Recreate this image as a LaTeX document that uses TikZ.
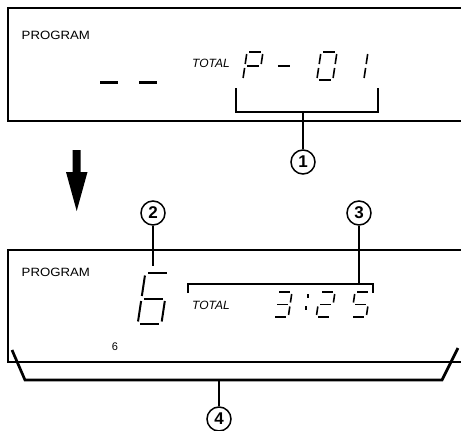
\documentclass[tikz,border=0pt]{standalone}
\usepackage{fontspec}
\setmainfont{Liberation Sans}
\newfontfamily\lblfont[FakeStretch=1.1]{Liberation Sans}
\newfontfamily\totfont{Liberation Sans}
\tikzset{
  box/.style={line width=1.6pt},
  brk/.style={line width=2.7pt},
  segln/.style={line cap=butt},
  circnum/.style={circle, draw, line width=1.5pt, inner sep=0pt, minimum size=24pt,
    font=\bfseries\fontsize{17}{17}\selectfont},
  lbl/.style={font=\lblfont\fontsize{12}{12}\selectfont, inner sep=0pt},
  tot/.style={font=\totfont\itshape\fontsize{12}{12}\selectfont, inner sep=0pt},
}
\newcommand\dsega{\draw[segln] (\dG,0) -- (\dW-\dG,0);}
\newcommand\dsegb{\draw[segln] (\dW,\dG) -- (\dW,\dH/2-\dG);}
\newcommand\dsegc{\draw[segln] (\dW,\dH/2+\dG) -- (\dW,\dH-\dG);}
\newcommand\dsegd{\draw[segln] (\dG,\dH) -- (\dW-\dG,\dH);}
\newcommand\dsege{\draw[segln] (0,\dH/2+\dG) -- (0,\dH-\dG);}
\newcommand\dsegf{\draw[segln] (0,\dG) -- (0,\dH/2-\dG);}
\newcommand\dsegg{\draw[segln] (\dG,\dH/2) -- (\dW-\dG,\dH/2);}
% x, y(top), W, H, gap, line width, segments
\newcommand\sevseg[7]{%
  \begin{scope}[shift={(#1,#2)},xslant=0.15,line width=#6]
  \def\dW{#3}\def\dH{#4}\def\dG{#5}%
  \foreach \s in {#7}{\csname dseg\s\endcsname}
  \end{scope}}
\begin{document}
\begin{tikzpicture}[x=1pt,y=-1pt]
\useasboundingbox (0,0) rectangle (461,431);
% display boxes
\draw[box] (461,8) -- (8,8) -- (8,121) -- (461,121);
\draw[box] (461,250) -- (8,250) -- (8,362) -- (461,362);
% top display
\node[lbl, anchor=west] (p1) at (21.5,35.5) {PROGRAM};
\draw[line width=3pt] (100,82) -- (118,82);
\draw[line width=3pt] (139,82) -- (157,82);
\node[tot] (t1) at (211,63) {TOTAL};
\sevseg{247}{52}{16}{28}{2}{1.6pt}{a,b,f,e,g}
\sevseg{278}{52}{16}{28}{2}{1.6pt}{g}
\sevseg{321}{52}{16}{28}{2}{1.6pt}{a,b,c,d,e,f}
\sevseg{352}{52}{16}{28}{2}{1.6pt}{b,c}
% bracket 1
\node[circnum] (n1) at (303,162) {1};
\coordinate (s1) at (303,112);
\draw[brk] (236,88) -- (236,112) -- (378,112) -- (378,88);
\draw[brk] (s1) -- (n1.north);
% arrow
\fill (72.7,150) -- (80.7,150) -- (80.7,172) -- (87.5,172) -- (76.7,211) -- (66,172) -- (72.7,172) -- cycle;
% bottom display
\node[lbl, anchor=west] (p2) at (21.5,272) {PROGRAM};
\sevseg{145.3}{273}{23.7}{51}{2.5}{2pt}{a,c,d,e,f,g}
\node[tot] (t2) at (211,305) {TOTAL};
\sevseg{277}{292}{15}{25}{2}{1.6pt}{a,b,c,d,g}
\sevseg{320}{292}{15}{25}{2}{1.6pt}{a,b,g,e,d}
\sevseg{355}{292}{15}{25}{2}{1.6pt}{a,f,g,c,d}
\fill (306.8,294) rectangle (308.6,297.5);
\fill (304.8,306) rectangle (306.6,309.5);
\node[font=\fontsize{11}{11}\selectfont, inner sep=0pt] (six) at (115,347) {6};
% labels 2,3
\node[circnum] (n2) at (153,213) {2};
\node[circnum] (n3) at (359,213) {3};
\coordinate (s2) at (153,266);
\coordinate (s3) at (359,284);
\draw[brk] (n2.south) -- (s2);
\draw[brk] (188,293) -- (188,284) -- (373,284) -- (373,293);
\draw[brk] (n3.south) -- (s3);
% bracket 4
\node[circnum] (n4) at (219,419) {4};
\coordinate (s4) at (219,380);
\draw[brk] (12,350) -- (25,380) -- (442,380) -- (458,348);
\draw[brk] (s4) -- (n4.north);
\end{tikzpicture}
\end{document}
